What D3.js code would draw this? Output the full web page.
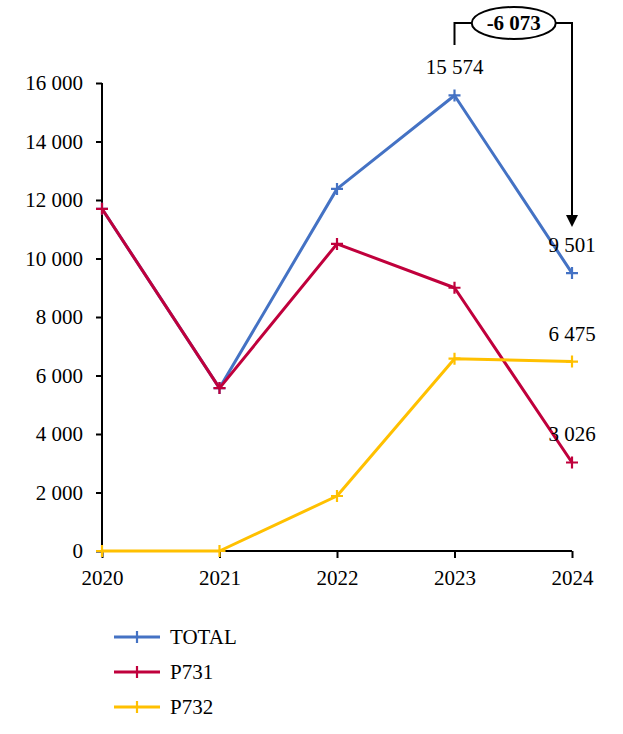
<!DOCTYPE html>
<html><head><meta charset="utf-8">
<script src="https://cdn.jsdelivr.net/npm/d3@7"></script>
<style>body{margin:0;background:#fff}svg text{font-family:"Liberation Serif","DejaVu Serif",serif;fill:#000}</style>
</head><body><svg id="c" width="623" height="734"></svg>
<script>
const years = ["2020","2021","2022","2023","2024"];
const seriesNames = ["TOTAL","P731","P732"];
const totalValues = [11700, 5570, 12380, 15574, 9501];
const p731Values = [11700, 5570, 10500, 9000, 3026];
const p732Values = [0, 0, 1880, 6574, 6475];
const yTicks = [0,2000,4000,6000,8000,10000,12000,14000,16000];
const seriesColors = ["#4472C4","#C0003C","#FFC000"];
const labelled = [{s:0,i:3},{s:0,i:4},{s:1,i:4},{s:2,i:4}];
const diffText = "-6 073";

const series = [totalValues, p731Values, p732Values];
const svg = d3.select("#c");
const x = d3.scalePoint().domain(years).range([102, 572]);
const y = d3.scaleLinear().domain([0,16000]).range([551, 83]);
const fmt = v => d3.format(",")(v).replace(/,/g, "\u00a0");
const FS = "21px";

const yAxis = svg.append("g").attr("transform","translate(102,0)")
  .call(d3.axisLeft(y).tickValues(yTicks).tickSize(6).tickPadding(13).tickFormat(fmt));
const xAxis = svg.append("g").attr("transform","translate(0,551)")
  .call(d3.axisBottom(x).tickSize(7).tickPadding(12));
[yAxis,xAxis].forEach(a=>{
  a.select(".domain").attr("stroke","#000").attr("stroke-width",2);
  a.selectAll(".tick line").attr("stroke","#000").attr("stroke-width",2);
  a.selectAll("text").style("font-size",FS).attr("font-family",null);
});
xAxis.select(".domain").attr("d","M102,0H572");
yAxis.select(".domain").attr("d","M0,"+y(16000)+"V"+y(0));

const line = d3.line().x((d,i)=>x(years[i])).y(d=>y(d));
series.forEach((vals,s)=>{
  svg.append("path").attr("d",line(vals)).attr("fill","none")
    .attr("stroke",seriesColors[s]).attr("stroke-width",3).attr("stroke-linejoin","round");
  vals.forEach((v,i)=>{
    const cx=x(years[i]), cy=y(v);
    svg.append("path").attr("d",`M${cx-6},${cy}H${cx+6}M${cx},${cy-6}V${cy+6}`)
      .attr("stroke",seriesColors[s]).attr("stroke-width",2.2);
  });
});

labelled.forEach(l=>{
  const v=series[l.s][l.i];
  svg.append("text").attr("x",x(years[l.i])).attr("y",y(v)-21)
    .attr("text-anchor","middle").style("font-size",FS).text(fmt(v));
});

// annotation bracket
const xa=x(years[3]), xb=x(years[4]);
const topY=23;
const tipY=y(totalValues[4])-46;
svg.append("path").attr("d",`M${xa},45V${topY}H${xb}V${tipY-12}`)
  .attr("fill","none").attr("stroke","#000").attr("stroke-width",2);
svg.append("path").attr("d",`M${xb-6},${tipY-12}L${xb+6},${tipY-12}L${xb},${tipY}Z`).attr("fill","#000");
const ex=(xa+xb)/2+0.5;
svg.append("ellipse").attr("cx",ex).attr("cy",topY).attr("rx",42).attr("ry",16)
  .attr("fill","#fff").attr("stroke","#000").attr("stroke-width",2);
svg.append("text").attr("x",ex).attr("y",topY+7).attr("text-anchor","middle")
  .style("font-size",FS).style("font-weight","bold").text(diffText);

// legend
seriesNames.forEach((n,s)=>{
  const ly=637+s*35;
  svg.append("line").attr("x1",114).attr("x2",160).attr("y1",ly).attr("y2",ly)
    .attr("stroke",seriesColors[s]).attr("stroke-width",3);
  svg.append("path").attr("d",`M137,${ly-6}V${ly+6}`).attr("stroke",seriesColors[s]).attr("stroke-width",2.2);
  svg.append("text").attr("x",170).attr("y",ly+7).style("font-size",FS).text(n);
});
</script></body></html>
